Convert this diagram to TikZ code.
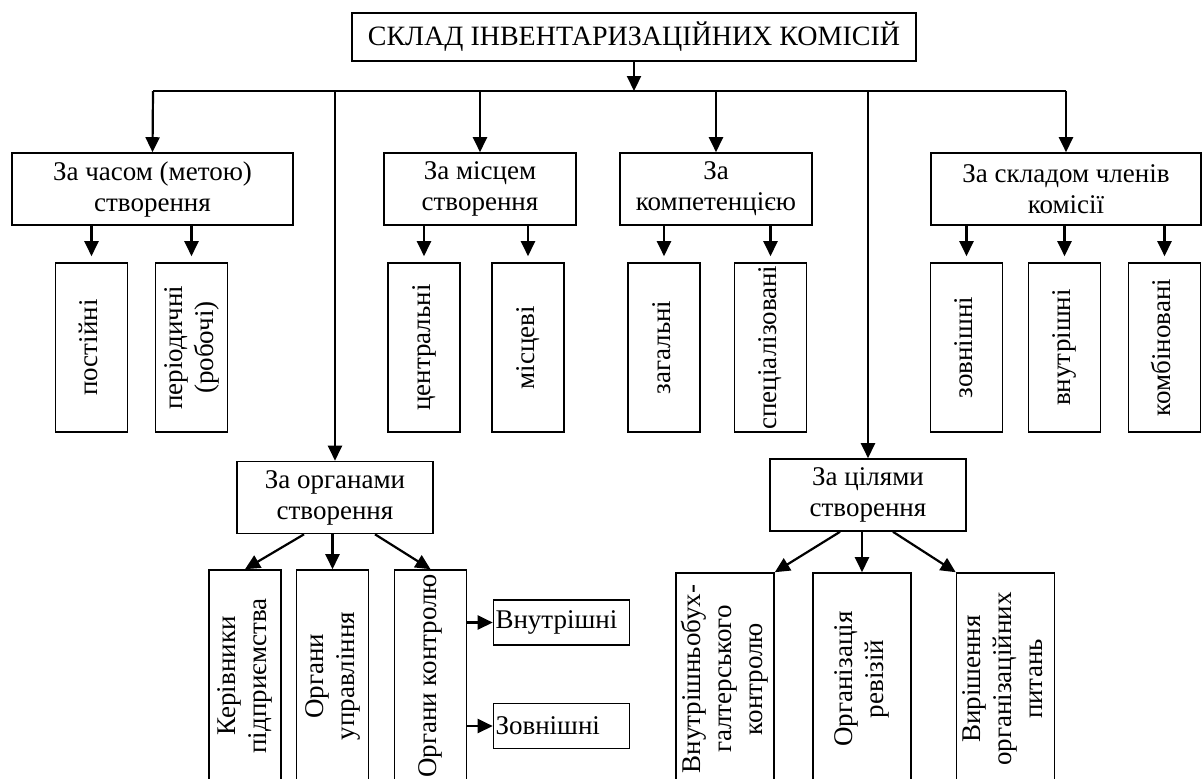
\documentclass[tikz,border=0pt]{standalone}
\usepackage{fontspec}
\setmainfont{Liberation Serif}
\usetikzlibrary{arrows.meta,calc}
\newcommand{\fs}{\fontsize{13.5}{15.5}\selectfont}
\newcommand{\vtext}[1]{\rotatebox{90}{\begin{tabular}{@{}c@{}}#1\end{tabular}}}
\tikzset{
  box/.style={draw, line width=0.8pt, align=center, inner sep=1pt, font=\fs},
  hbox/.style={box, minimum height=36pt},
  vbox/.style={box, minimum width=36pt, minimum height=84.5pt},
  lbox/.style={box, minimum height=106pt},
  sbox/.style={box, text width=66pt, align=left, minimum height=22.5pt},
  arr/.style={-{Triangle[width=7pt,length=7.5pt]}, line width=1.1pt},
}

\begin{document}
\begin{tikzpicture}[x=0.5pt, y=-0.5pt]
  \useasboundingbox (0,0) rectangle (1203,778);
  \clip (0,0) rectangle (1203,778);

  \node[box, minimum width=282pt, minimum height=24pt, font=\fontsize{14}{16}\selectfont] (title) at (634,37) {СКЛАД ІНВЕНТАРИЗАЦІЙНИХ КОМІСІЙ};
  \coordinate (busL) at (153,91);
  \coordinate (busR) at (1066,91);

  \node[hbox, minimum width=140.5pt] (time) at (152.5,189) {За часом (метою)\\створення};
  \node[hbox, minimum width=96pt] (place) at (480,189) {За місцем\\створення};
  \node[hbox, minimum width=96pt] (comp) at (716,189) {За\\компетенцією};
  \node[hbox, minimum width=135pt] (memb) at (1066,189) {За складом членів\\комісії};

  \node[vbox] (perm) at (91.5,347.5) {\vtext{постійні}};
  \node[vbox] (peri) at (191.5,347.5) {\vtext{періодичні\\(робочі)}};
  \node[vbox] (centr) at (424,347.5) {\vtext{центральні}};
  \node[vbox] (loc) at (528,347.5) {\vtext{місцеві}};
  \node[vbox] (gen) at (664,347.5) {\vtext{загальні}};
  \node[vbox] (spec) at (770.5,347.5) {\vtext{спеціалізовані}};
  \node[vbox] (ext) at (966.5,347.5) {\vtext{зовнішні}};
  \node[vbox] (int) at (1064.5,347.5) {\vtext{внутрішні}};
  \node[vbox] (comb) at (1164.5,347.5) {\vtext{комбіновані}};

  \node[hbox, minimum width=98pt] (organ) at (335,497.5) {За органами\\створення};
  \node[hbox, minimum width=98pt] (goal) at (868,495) {За цілями\\створення};

  \node[lbox, minimum width=36pt] (ker) at (245,676) {\vtext{Керівники\\підприємства}};
  \node[lbox, minimum width=36pt] (upr) at (332.5,676) {\vtext{Органи\\управління}};
  \node[lbox, minimum width=36pt] (kon) at (430.5,676) {\vtext{Органи контролю}};
  \node[sbox] (inner) at (561.5,622.5) {Внутрішні};
  \node[sbox] (outer) at (561.5,726) {Зовнішні};

  \node[lbox, minimum width=49pt] (vbk) at (725,679) {\vtext{Внутрішньобух-\\галтерського\\контролю}};
  \node[lbox, minimum width=49pt] (rev) at (862,679) {\vtext{Організація\\ревізій}};
  \node[lbox, minimum width=49pt] (vir) at (1005.5,679) {\vtext{Вирішення\\організаційних\\питань}};

  \draw[line width=1.1pt] (busL) -- (busR);
  \draw[arr] (title.south) -- (title.south |- busL);
  \draw[arr] (busL) -- (time.north);
  \draw[arr] (place.north |- busL) -- (place.north);
  \draw[arr] (comp.north |- busL) -- (comp.north);
  \draw[arr] (busR) -- (memb.north);
  \draw[arr] (organ.north |- busL) -- (organ.north);
  \draw[arr] (goal.north |- busL) -- (goal.north);

  \foreach \p in {perm,peri} \draw[arr, shorten >=3pt] (time.south -| \p.north) -- (\p.north);
  \foreach \p in {centr,loc} \draw[arr, shorten >=3pt] (place.south -| \p.north) -- (\p.north);
  \foreach \p in {gen,spec} \draw[arr, shorten >=3pt] (comp.south -| \p.north) -- (\p.north);
  \foreach \p in {ext,int,comb} \draw[arr, shorten >=3pt] (memb.south -| \p.north) -- (\p.north);

  \draw[arr] ([xshift=-15.5pt]organ.south) -- (ker.north);
  \draw[arr] (organ.south -| upr.north) -- (upr.north);
  \draw[arr] ([xshift=20pt]organ.south) -- (kon.north);
  \draw[arr] (kon.east |- inner.west) -- (inner.west);
  \draw[arr] (kon.east |- outer.west) -- (outer.west);

  \draw[arr] ([xshift=-14pt]goal.south) -- (vbk.north east);
  \draw[arr] (goal.south -| rev.north) -- (rev.north);
  \draw[arr] ([xshift=12.5pt]goal.south) -- (vir.north west);
\end{tikzpicture}
\end{document}
